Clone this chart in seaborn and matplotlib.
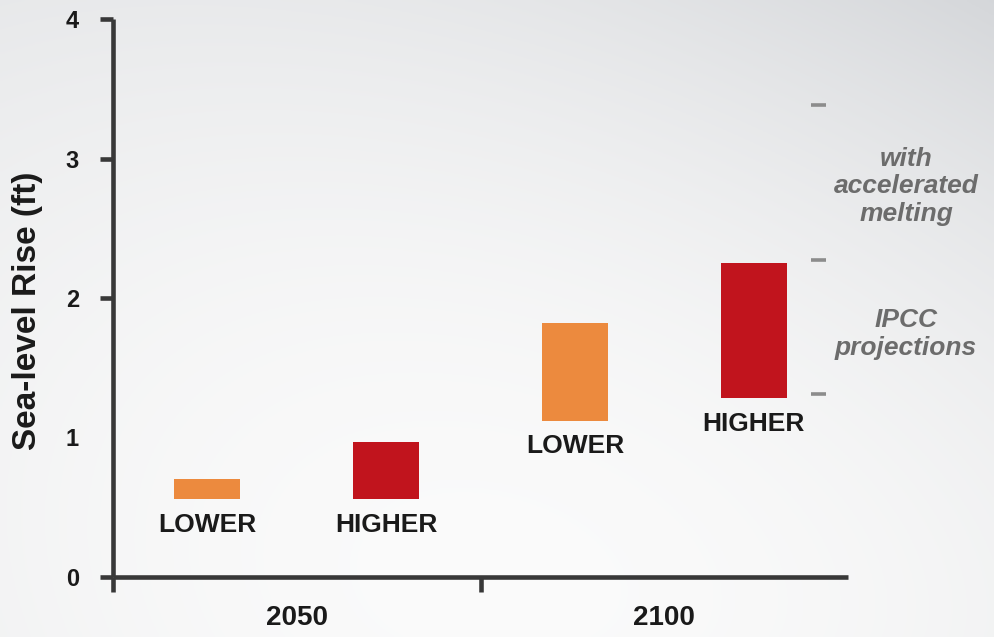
import numpy as np
import pandas as pd
import matplotlib
matplotlib.use("Agg")
import matplotlib.pyplot as plt
import seaborn as sns

# --- data -------------------------------------------------------------
years = ["2050", "2100"]
scenarios = ["LOWER", "HIGHER"]
range_bottom = {("2050", "LOWER"): 0.56, ("2050", "HIGHER"): 0.56,
                ("2100", "LOWER"): 1.12, ("2100", "HIGHER"): 1.28}
range_top = {("2050", "LOWER"): 0.70, ("2050", "HIGHER"): 0.97,
             ("2100", "LOWER"): 1.82, ("2100", "HIGHER"): 2.25}
bracket_levels = [3.38, 2.27, 1.31]
bracket_texts = ["with\naccelerated\nmelting", "IPCC\nprojections"]
bracket_text_y = [2.80, 1.74]
y_ticks = [0, 1, 2, 3, 4]
y_tick_labels = ["0", "1", "2", "3", "4"]
y_label = "Sea-level Rise (ft)"

colors = {"LOWER": "#EC8A3E", "HIGHER": "#C1141D"}
axis_color = "#383838"
text_color = "#1a1a1a"
note_color = "#6c6c6c"

rows = []
for yr in years:
    for sc in scenarios:
        rows.append({"year": yr, "scenario": sc,
                     "bottom": range_bottom[(yr, sc)],
                     "span": range_top[(yr, sc)] - range_bottom[(yr, sc)]})
df = pd.DataFrame(rows)

# --- style -------------------------------------------------------------
sns.set_style("ticks")
plt.rcParams["font.family"] = ["Liberation Sans", "DejaVu Sans"]
plt.rcParams["font.weight"] = "bold"

fig = plt.figure(figsize=(9.94, 6.37), dpi=100)

# soft grey backdrop, lightest towards the lower middle
bg = fig.add_axes([0, 0, 1, 1], zorder=-5)
gx, gy = np.meshgrid(np.linspace(0, 1, 400), np.linspace(0, 1, 260))
r2 = ((gx - 0.5) / 0.7) ** 2 + ((gy - 0.8) / 0.9) ** 2
v = 251 - 14 * r2 - 18 * gx * (1 - gy) ** 1.5
shade = (251 - v) / 35.0
img = np.dstack([v - 2 * shade, v, v + 3 * shade]) / 255.0
bg.imshow(np.clip(img, 0, 1), aspect="auto", extent=[0, 1, 0, 1], origin="upper")
bg.set_axis_off()

ax = fig.add_axes([113 / 994, 60 / 637, (848 - 113) / 994, (577 - 19) / 637])
ax.set_facecolor("none")

sns.barplot(data=df, x="year", y="span", hue="scenario", order=years,
            hue_order=scenarios, palette=colors, saturation=1, width=0.972,
            gap=0.63, errorbar=None, legend=False, linewidth=0, ax=ax)

# lift each bar so it spans its projected range
for patch in ax.patches:
    cx = patch.get_x() + patch.get_width() / 2
    yi = int(round(cx))
    sc = scenarios[0] if cx < yi else scenarios[1]
    b = range_bottom[(years[yi], sc)]
    patch.set_y(b)
    ax.annotate(sc, xy=(cx, b), xytext=(0, -18.5), textcoords="offset points",
                ha="center", va="center", fontsize=19, fontweight="bold",
                color=text_color, annotation_clip=False)

# range markers and notes at the right
ax.hlines(bracket_levels, 1.40, 1.44, colors="#8c8c8c", linewidth=2.6,
          clip_on=False)
for txt, ty in zip(bracket_texts, bracket_text_y):
    ax.text(1.658, ty, txt, ha="center", va="center", fontsize=19,
            fontstyle="italic", fontweight="bold", color=note_color,
            linespacing=1.2, clip_on=False)

# --- axes --------------------------------------------------------------
ax.set_xlim(-0.5, 1.5)
ax.set_ylim(0, 4)
sns.despine(ax=ax)
for side in ["left", "bottom"]:
    ax.spines[side].set_color(axis_color)
    ax.spines[side].set_linewidth(3.3)
    ax.spines[side].set_capstyle("butt")

ax.set_xticks([-0.5, 0.5], ["", ""])
ax.set_xticks([0, 1], years, minor=True)
ax.tick_params(axis="x", which="major", length=10.5, width=3.3,
               color=axis_color, direction="out")
ax.tick_params(axis="x", which="minor", length=0, pad=20, labelsize=20,
               labelcolor=text_color)
for lab in ax.get_xticklabels(minor=True):
    lab.set_fontweight("bold")

ax.set_yticks(y_ticks, y_tick_labels)
ax.tick_params(axis="y", length=9.5, width=3.3, color=axis_color,
               pad=15, labelsize=17, labelcolor=text_color)
for lab in ax.get_yticklabels():
    lab.set_fontweight("bold")
ax.yaxis.get_major_ticks()[1].tick1line.set_visible(False)

ax.set_xlabel("")
ax.set_ylabel(y_label, fontsize=24, fontweight="bold", color=text_color,
              va="center")
ax.yaxis.set_label_coords(-0.117, 0.477)

fig.savefig("out.png", dpi=100)
